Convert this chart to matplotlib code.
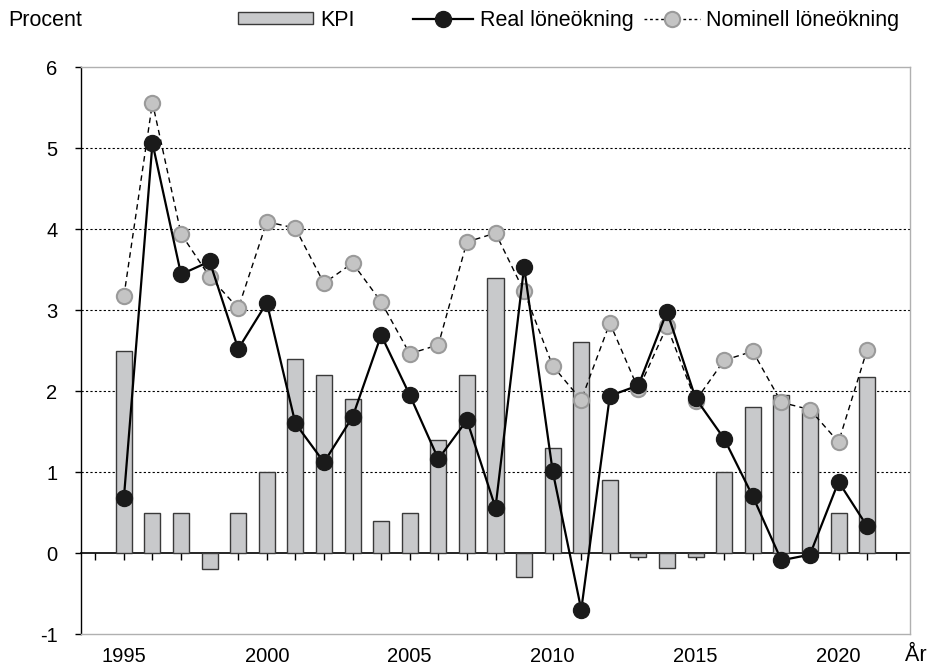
import numpy as np
import matplotlib
matplotlib.use("Agg")
import matplotlib.pyplot as plt
from matplotlib.patches import Patch
from matplotlib.lines import Line2D

plt.rcParams["font.family"] = ["Liberation Sans", "DejaVu Sans"]
plt.rcParams["axes.unicode_minus"] = False

years = np.arange(1995, 2022)
kpi = [2.5, 0.5, 0.5, -0.2, 0.5, 1.0, 2.4, 2.2, 1.9, 0.4, 0.5, 1.4, 2.2, 3.4,
       -0.3, 1.3, 2.6, 0.9, -0.05, -0.18, -0.05, 1.0, 1.8, 1.95, 1.78, 0.5, 2.17]
real = [0.68, 5.06, 3.44, 3.60, 2.52, 3.09, 1.60, 1.12, 1.68, 2.69, 1.95, 1.16,
        1.64, 0.56, 3.53, 1.01, -0.70, 1.94, 2.07, 2.98, 1.91, 1.41, 0.70,
        -0.09, -0.02, 0.88, 0.33]
nominal = [3.17, 5.56, 3.94, 3.41, 3.02, 4.09, 4.01, 3.33, 3.58, 3.10, 2.46,
           2.57, 3.84, 3.95, 3.23, 2.31, 1.89, 2.84, 2.02, 2.80, 1.88, 2.38,
           2.49, 1.86, 1.77, 1.37, 2.51]
xticks = [1995, 2000, 2005, 2010, 2015, 2020]

bar_face = "#c8c9cb"
bar_edge = "#3a3a3a"
nom_face = "#c4c4c4"
nom_edge = "#9a9a9a"

fig = plt.figure(figsize=(9.3, 6.7), dpi=100)
ax = fig.add_axes([0.0871, 0.0537, 0.8914, 0.8463])

ax.set_xlim(1993.5, 2022.5)
ax.set_ylim(-1, 6)

# dotted grid
for v in range(1, 6):
    ax.axhline(v, color="black", lw=0.8, ls=(0, (2, 2)), zorder=0)

ax.bar(years, kpi, width=0.56, color=bar_face, edgecolor=bar_edge,
       linewidth=1.0, zorder=2)
ax.plot(years, nominal, color="black", lw=1.0, ls=(0, (4, 3)), marker="o",
        markersize=11, markerfacecolor=nom_face, markeredgecolor=nom_edge,
        markeredgewidth=1.5, zorder=3)
ax.plot(years, real, color="black", lw=1.6, marker="o", markersize=11.5,
        markerfacecolor="#1a1a1a", markeredgecolor="#1a1a1a", zorder=4)

# frame
ax.spines["left"].set_color("black")
ax.spines["left"].set_linewidth(1.0)
for s in ["top", "right", "bottom"]:
    ax.spines[s].set_color("#b0b0b0")
    ax.spines[s].set_linewidth(1.0)

ax.set_yticks(range(-1, 7))
ax.tick_params(axis="y", length=4, width=1, labelsize=14.5, pad=13)
ax.set_xticks(xticks)
ax.tick_params(axis="x", length=0, labelsize=14.5, pad=9)

# zero line with year ticks
zero_ax = ax.secondary_xaxis(1 / 7)
zero_ax.set_xticks(np.arange(1994, 2023))
zero_ax.set_xticklabels([])
zero_ax.tick_params(axis="x", length=5, width=1, direction="out")
zero_ax.spines["bottom"].set_color("black")
zero_ax.spines["bottom"].set_linewidth(1.2)

fig.text(0.009, 0.970, "Procent", fontsize=15.5, va="center", ha="left")
fig.text(0.973, 0.006, "År", fontsize=15.5, va="bottom", ha="left")

# legend entries, each placed on its own
entries = [
    (Patch(facecolor=bar_face, edgecolor=bar_edge, linewidth=1.0),
     "KPI", 0.256, 3.5),
    (Line2D([], [], color="black", lw=1.6, marker="o", markersize=11.5,
            markerfacecolor="#1a1a1a", markeredgecolor="#1a1a1a"),
     "Real löneökning", 0.444, 2.8),
    (Line2D([], [], color="black", lw=1.0, ls=(0, (2, 2)), marker="o",
            markersize=11, markerfacecolor=nom_face, markeredgecolor=nom_edge,
            markeredgewidth=1.5),
     "Nominell löneökning", 0.692, 2.6),
]
for h, lab, xpos, hl in entries:
    leg = fig.legend([h], [lab], loc="center left", bbox_to_anchor=(xpos, 0.970),
                     frameon=False, fontsize=15.5, handlelength=hl,
                     handleheight=0.5, handletextpad=0.3, borderaxespad=0,
                     borderpad=0)

fig.savefig("out.png", dpi=100)
